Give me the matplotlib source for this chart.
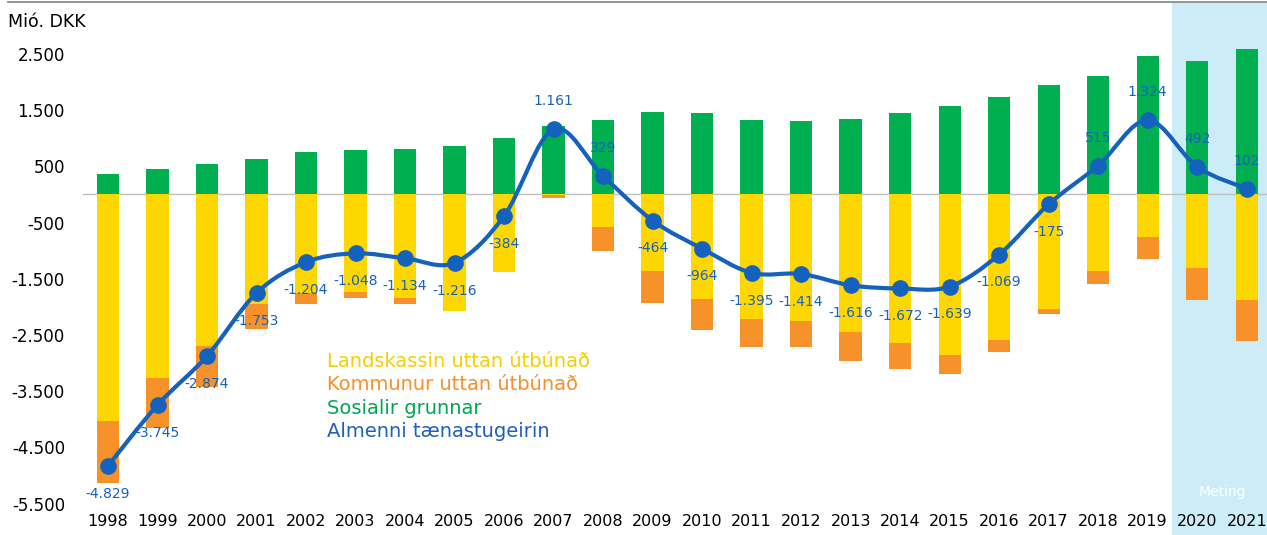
import numpy as np
import matplotlib.pyplot as plt
from matplotlib.path import Path
from matplotlib.patches import PathPatch
from matplotlib.lines import Line2D
import matplotlib.transforms as mtransforms

# Data (Mió. DKK)
years = list(range(1998, 2022))
landskassin = [-4025, -3265, -2690, -1943, -1745, -1744, -1847, -2078, -1384, -15,
               -584, -1361, -1859, -2215, -2257, -2447, -2648, -2862, -2589, -2043,
               -1361, -751, -1313, -1877]
kommunur = [-1114, -895, -732, -447, -210, -90, -96, 0, 0, -50,
            -416, -570, -546, -493, -462, -516, -457, -326, -208, -78,
            -226, -397, -564, -730]
sosialir = [360, 450, 548, 637, 762, 786, 810, 863, 1011, 1225,
            1326, 1462, 1450, 1326, 1310, 1350, 1445, 1569, 1735, 1954,
            2108, 2470, 2375, 2589]
almenni = [-4829, -3745, -2874, -1753, -1204, -1048, -1134, -1216, -384, 1161,
           329, -464, -964, -1395, -1414, -1616, -1672, -1639, -1069, -175,
           515, 1324, 492, 102]
yticks = [2500, 1500, 500, -500, -1500, -2500, -3500, -4500, -5500]

C_YEL = '#FFD700'
C_ORA = '#F7922A'
C_GRN = '#00B050'
C_BLU = '#1562BE'
C_BG = '#CCEDF8'

plt.rcParams['font.family'] = 'DejaVu Sans'

fig = plt.figure(figsize=(12.67, 5.35), dpi=100)
ax = fig.add_axes([83 / 1267, 0, 1 - 83 / 1267, 532 / 535])

x = np.array(years, dtype=float)
lk = np.array(landskassin)
ko = np.array(kommunur)

# Meting (estimate) region
ax.axvspan(2019.5, 2022, color=C_BG, zorder=0, lw=0)
ax.text(2020.5, -5300, 'Meting', color='white', fontsize=10, ha='center', va='center')

ax.axhline(0, color='#BFBFBF', lw=1, zorder=1)

w = 0.45
ax.bar(x, lk, w, color=C_YEL, zorder=2)
ax.bar(x, ko, w, bottom=lk, color=C_ORA, zorder=2)
ax.bar(x, sosialir, w, color=C_GRN, zorder=2)

# smoothed line through the points (cubic bezier, catmull-rom style)
pts = np.column_stack([x, almenni])
verts = [pts[0]]
codes = [Path.MOVETO]
for i in range(len(pts) - 1):
    p0 = pts[max(i - 1, 0)]
    p1 = pts[i]
    p2 = pts[i + 1]
    p3 = pts[min(i + 2, len(pts) - 1)]
    verts += [p1 + (p2 - p0) / 6, p2 - (p3 - p1) / 6, p2]
    codes += [Path.CURVE4] * 3
ax.add_patch(PathPatch(Path(verts, codes), fill=False, edgecolor=C_BLU, lw=3, zorder=3))
ax.plot(x, almenni, 'o', color=C_BLU, ms=11, zorder=4)

for xi, v in zip(years, almenni):
    lbl = f'{v:,}'.replace(',', '.')
    off = 20 if v > 0 else -20
    ax.annotate(lbl, (xi, v), xytext=(0, off), textcoords='offset points',
                ha='center', va='center', color=C_BLU, fontsize=10, zorder=5)

ax.set_xlim(1997.495, 2021.41)
ax.set_ylim(-6059, 3407)
ax.set_yticks(yticks)
ax.set_yticklabels([f'{t:,}'.replace(',', '.') for t in yticks], fontsize=12)
ax.tick_params(axis='y', length=0, pad=13)
ax.set_xticks([])
for s in ax.spines.values():
    s.set_visible(False)

trans = mtransforms.blended_transform_factory(ax.transData, ax.transAxes)
for xi in years:
    ax.text(xi, 13 / 532, str(xi), transform=trans, ha='center', va='center', fontsize=11.5)

# legend as coloured text
leg = [('Landskassin uttan útbúnað', '#F5D000'), ('Kommunur uttan útbúnað', '#F7902A'),
       ('Sosialir grunnar', '#00A650'), ('Almenni tænastugeirin', '#1F5FBF')]
for i, (t, c) in enumerate(leg):
    fig.text(327 / 1267, 1 - (361.7 + i * 23.3) / 535, t, color=c, fontsize=14, va='center')

fig.text(8 / 1267, 1 - 22 / 535, 'Mió. DKK', fontsize=12.5, va='center')
fig.add_artist(Line2D([8 / 1267, 1], [1 - 2 / 535, 1 - 2 / 535], color='#808080', lw=1.2))

fig.savefig('out.png', dpi=100)
